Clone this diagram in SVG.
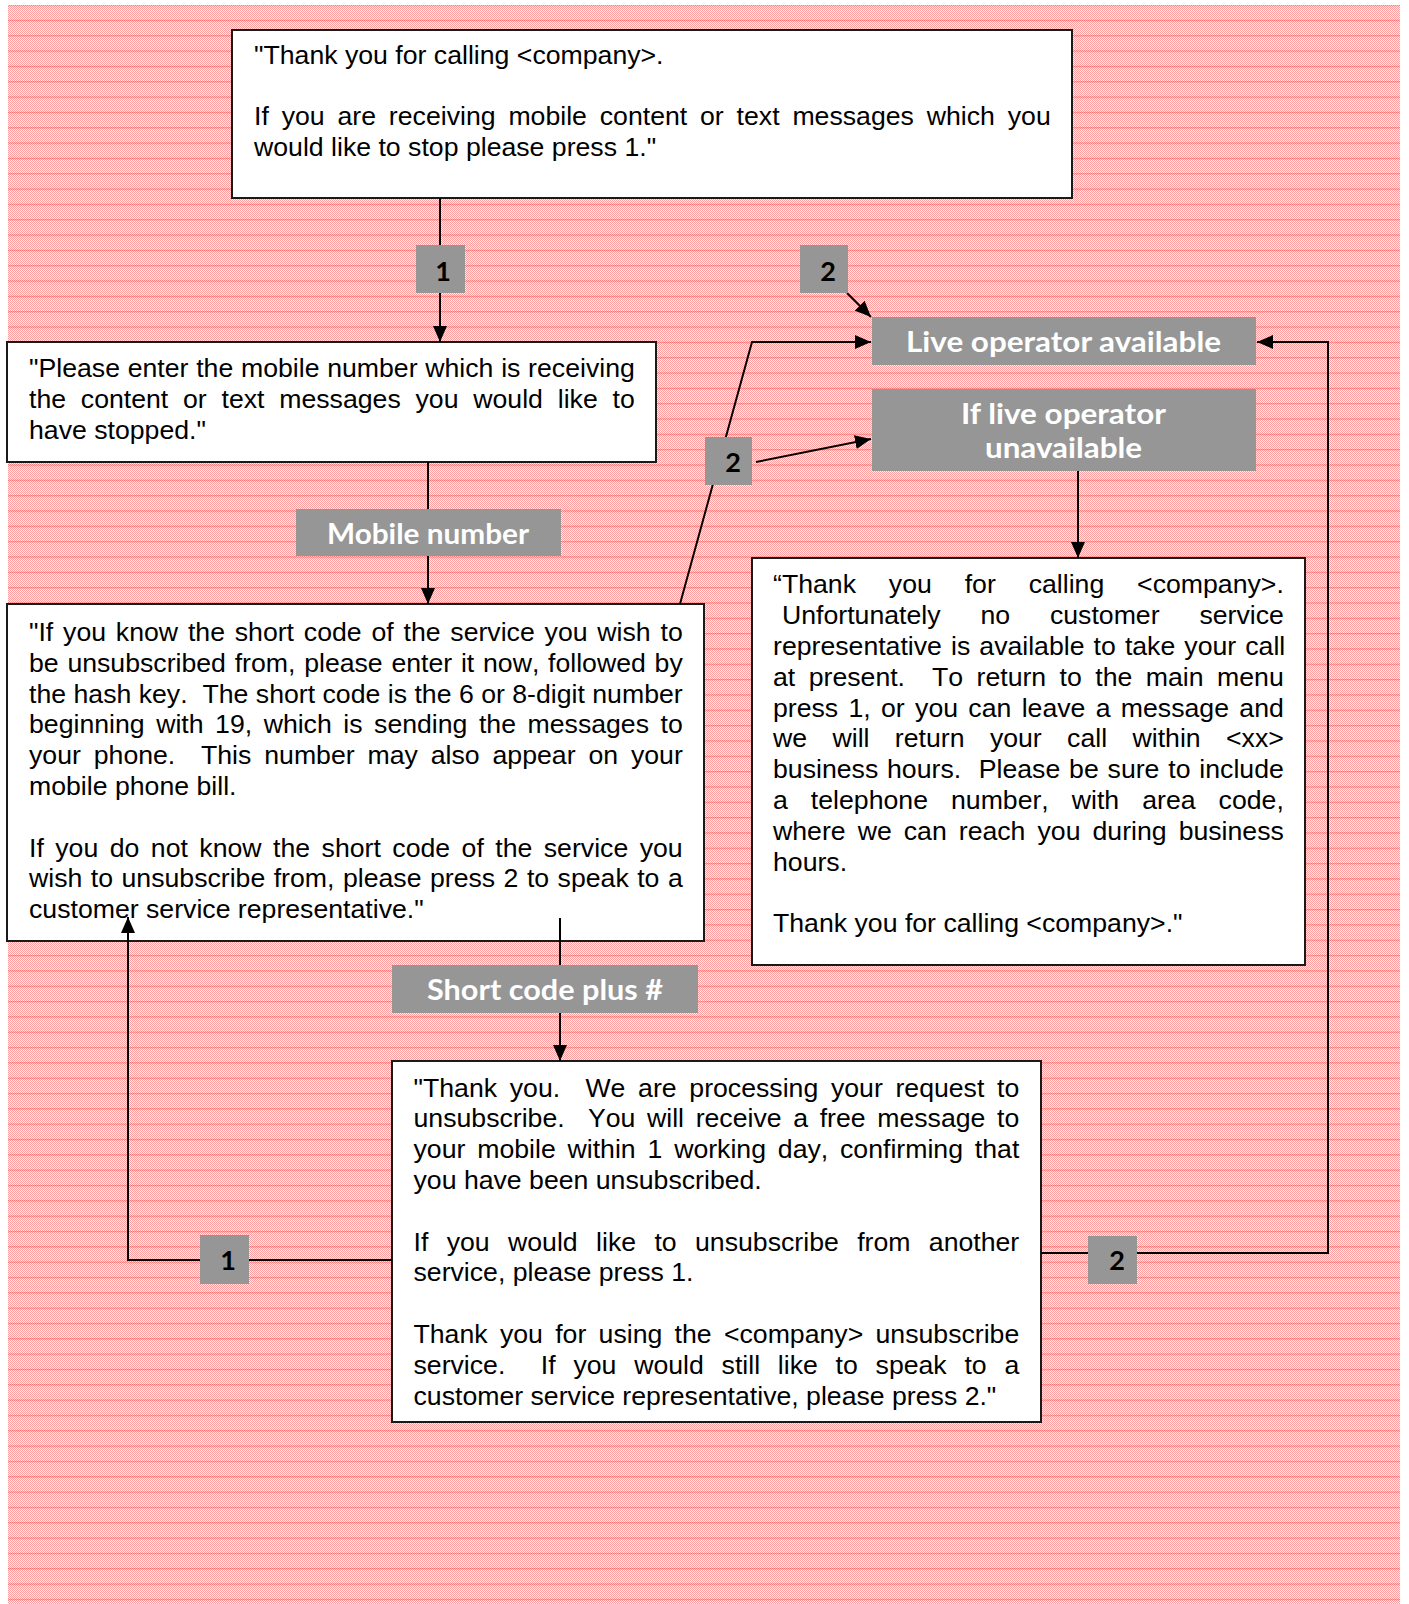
<svg xmlns="http://www.w3.org/2000/svg" width="1409" height="1604" viewBox="0 0 1409 1604">
<defs>
<pattern id="chk" width="2" height="2" patternUnits="userSpaceOnUse"><rect width="2" height="2" fill="#ffeded"/><rect width="1" height="1" fill="#ff9e9e"/><rect x="1" y="1" width="1" height="1" fill="#ff9e9e"/></pattern>
<pattern id="hl" width="8" height="15.33" patternUnits="userSpaceOnUse" y="4.5"><rect width="8" height="1.3" fill="#ff3030" opacity="0.4"/></pattern>
<marker id="ah" viewBox="0 0 16 14" refX="16" refY="7" markerWidth="16" markerHeight="14" markerUnits="userSpaceOnUse" orient="auto"><path d="M0,0 L16,7 L0,14 z" fill="#000"/></marker>
</defs>
<style>
.box{fill:#fff;stroke:#1a1a1a;stroke-width:2}
.t{font-family:"Liberation Sans",Arial,sans-serif;font-size:26.67px;fill:#000;white-space:pre;font-kerning:none}
.c{fill:none;stroke:#000;stroke-width:2}
.g{fill:#969696}
.lb{font-family:Lato,"Open Sans",sans-serif;font-weight:bold;font-size:28px;fill:#fff}
.nm{font-family:Lato,"Open Sans",sans-serif;font-weight:bold;font-size:27px;fill:#000;text-anchor:middle}
</style>
<rect width="1409" height="1604" fill="#fff"/>
<rect x="8" y="5" width="1392" height="1599" fill="url(#chk)"/>
<rect x="8" y="5" width="1392" height="1599" fill="url(#hl)"/>

<g id="n-welcome">
<rect class="box" x="232" y="30" width="840" height="168"/>
<text class="t" xml:space="preserve" x="254" y="64">"Thank you for calling &lt;company&gt;.</text>
<text class="t" xml:space="preserve" x="254" y="125" style="word-spacing:5.44px">If you are receiving mobile content or text messages which you</text>
<text class="t" xml:space="preserve" x="254" y="155.8">would like to stop please press 1."</text>
</g>

<g id="n-enter-number">
<rect class="box" x="7" y="342" width="649" height="120"/>
<text class="t" xml:space="preserve" x="29" y="377" style="word-spacing:0.31px">"Please enter the mobile number which is receiving</text>
<text class="t" xml:space="preserve" x="29" y="407.8" style="word-spacing:7.37px">the content or text messages you would like to</text>
<text class="t" xml:space="preserve" x="29" y="438.6">have stopped."</text>
</g>

<g id="n-short-code">
<rect class="box" x="7" y="604" width="697" height="337"/>
<text class="t" xml:space="preserve" x="29" y="641" style="word-spacing:2.40px">"If you know the short code of the service you wish to</text>
<text class="t" xml:space="preserve" x="29" y="671.8" style="word-spacing:1.33px">be unsubscribed from, please enter it now, followed by</text>
<text class="t" xml:space="preserve" x="29" y="702.6" style="word-spacing:0.02px">the hash key.  The short code is the 6 or 8-digit number</text>
<text class="t" xml:space="preserve" x="29" y="733.4" style="word-spacing:4.11px">beginning with 19, which is sending the messages to</text>
<text class="t" xml:space="preserve" x="29" y="764.2" style="word-spacing:5.47px">your phone.  This number may also appear on your</text>
<text class="t" xml:space="preserve" x="29" y="795">mobile phone bill.</text>
<text class="t" xml:space="preserve" x="29" y="856.6" style="word-spacing:4.06px">If you do not know the short code of the service you</text>
<text class="t" xml:space="preserve" x="29" y="887.4" style="word-spacing:1.07px">wish to unsubscribe from, please press 2 to speak to a</text>
<text class="t" xml:space="preserve" x="29" y="918.2">customer service representative."</text>
</g>

<g id="n-unavailable-msg">
<rect class="box" x="752" y="558" width="553" height="407"/>
<text class="t" xml:space="preserve" x="773" y="593.3" style="word-spacing:25.47px">“Thank you for calling &lt;company&gt;.</text>
<text class="t" xml:space="preserve" x="782" y="624.1" style="word-spacing:32.46px">Unfortunately no customer service</text>
<text class="t" xml:space="preserve" x="773" y="654.9" style="word-spacing:1.66px">representative is available to take your call</text>
<text class="t" xml:space="preserve" x="773" y="685.7" style="word-spacing:6.06px">at present.  To return to the main menu</text>
<text class="t" xml:space="preserve" x="773" y="716.5" style="word-spacing:2.91px">press 1, or you can leave a message and</text>
<text class="t" xml:space="preserve" x="773" y="747.3" style="word-spacing:17.98px">we will return your call within &lt;xx&gt;</text>
<text class="t" xml:space="preserve" x="773" y="778.1" style="word-spacing:1.42px">business hours.  Please be sure to include</text>
<text class="t" xml:space="preserve" x="773" y="808.9" style="word-spacing:15.62px">a telephone number, with area code,</text>
<text class="t" xml:space="preserve" x="773" y="839.7" style="word-spacing:4.63px">where we can reach you during business</text>
<text class="t" xml:space="preserve" x="773" y="870.5">hours.</text>
<text class="t" xml:space="preserve" x="773" y="932.1">Thank you for calling &lt;company&gt;."</text>
</g>

<g id="n-processing">
<rect class="box" x="392" y="1061" width="649" height="361"/>
<text class="t" xml:space="preserve" x="413.5" y="1096.5" style="word-spacing:5.27px">"Thank you.  We are processing your request to</text>
<text class="t" xml:space="preserve" x="413.5" y="1127.3" style="word-spacing:4.23px">unsubscribe.  You will receive a free message to</text>
<text class="t" xml:space="preserve" x="413.5" y="1158.1" style="word-spacing:4.42px">your mobile within 1 working day, confirming that</text>
<text class="t" xml:space="preserve" x="413.5" y="1188.9">you have been unsubscribed.</text>
<text class="t" xml:space="preserve" x="413.5" y="1250.5" style="word-spacing:10.97px">If you would like to unsubscribe from another</text>
<text class="t" xml:space="preserve" x="413.5" y="1281.3">service, please press 1.</text>
<text class="t" xml:space="preserve" x="413.5" y="1342.9" style="word-spacing:4.89px">Thank you for using the &lt;company&gt; unsubscribe</text>
<text class="t" xml:space="preserve" x="413.5" y="1373.7" style="word-spacing:10.35px">service.  If you would still like to speak to a</text>
<text class="t" xml:space="preserve" x="413.5" y="1404.5">customer service representative, please press 2."</text>
</g>

<g id="connectors">
<path class="c" d="M440,198 L440,342" marker-end="url(#ah)"/>
<path class="c" d="M428,462 L428,604" marker-end="url(#ah)"/>
<path class="c" d="M560,918 L560,1061" marker-end="url(#ah)"/>
<path class="c" d="M1078,462 L1078,558" marker-end="url(#ah)"/>
<path class="c" d="M847,293 L871,317" marker-end="url(#ah)"/>
<path class="c" d="M680,604 L752,342 L871,342" marker-end="url(#ah)"/>
<path class="c" d="M756,462 L871,439" marker-end="url(#ah)"/>
<path class="c" d="M1041,1253 L1328,1253 L1328,342 L1257,342" marker-end="url(#ah)"/>
<path class="c" d="M392,1260 L128,1260 L128,917" marker-end="url(#ah)"/>
</g>

<g id="n-live-available">
<rect class="g" x="872" y="317" width="384" height="48"/>
<text class="lb" x="906" y="352" textLength="315" lengthAdjust="spacingAndGlyphs">Live operator available</text>
</g>
<g id="n-live-unavailable">
<rect class="g" x="872" y="389" width="384" height="82"/>
<text class="lb" x="961" y="424" textLength="205" lengthAdjust="spacingAndGlyphs">If live operator</text>
<text class="lb" x="985" y="458" textLength="157" lengthAdjust="spacingAndGlyphs">unavailable</text>
</g>
<g id="n-mobile-number">
<rect class="g" x="296" y="509" width="265" height="47"/>
<text class="lb" x="327" y="544" textLength="202" lengthAdjust="spacingAndGlyphs">Mobile number</text>
</g>
<g id="n-short-code-plus">
<rect class="g" x="392" y="965" width="306" height="48"/>
<text class="lb" x="427" y="1000" textLength="236" lengthAdjust="spacingAndGlyphs">Short code plus #</text>
</g>
<g id="n-key1-top">
<rect class="g" x="416" y="245" width="49" height="48"/>
<text class="nm" x="443" y="281">1</text>
</g>
<g id="n-key2-top">
<rect class="g" x="800" y="245" width="48" height="48"/>
<text class="nm" x="828" y="281">2</text>
</g>
<g id="n-key2-mid">
<rect class="g" x="705" y="437" width="47" height="48"/>
<text class="nm" x="733" y="472">2</text>
</g>
<g id="n-key1-bottom">
<rect class="g" x="200" y="1235" width="49" height="49"/>
<text class="nm" x="228" y="1270">1</text>
</g>
<g id="n-key2-bottom">
<rect class="g" x="1088" y="1236" width="49" height="48"/>
<text class="nm" x="1117" y="1270">2</text>
</g>
</svg>
